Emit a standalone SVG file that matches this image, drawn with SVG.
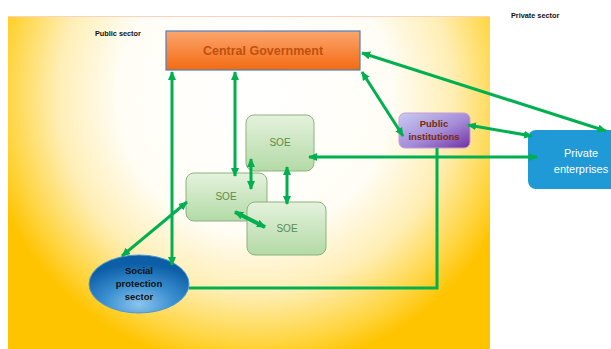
<svg xmlns="http://www.w3.org/2000/svg" width="611" height="349" viewBox="0 0 611 349">
<defs>
<radialGradient id="bg" gradientUnits="userSpaceOnUse" cx="255" cy="95" r="275">
<stop offset="0" stop-color="#ffffff"/>
<stop offset="0.5" stop-color="#fffdf5"/>
<stop offset="0.72" stop-color="#ffeeb4"/>
<stop offset="0.88" stop-color="#ffd84e"/>
<stop offset="1" stop-color="#ffc400"/>
</radialGradient>
<linearGradient id="cg" x1="0" y1="0" x2="0" y2="1">
<stop offset="0" stop-color="#fba66e"/>
<stop offset="1" stop-color="#f36b12"/>
</linearGradient>
<linearGradient id="soe" x1="0" y1="0" x2="0" y2="1">
<stop offset="0" stop-color="#e4f2dc"/>
<stop offset="1" stop-color="#b3daa6"/>
</linearGradient>
<linearGradient id="pi" x1="0" y1="0" x2="1" y2="1">
<stop offset="0" stop-color="#c8cdf2"/>
<stop offset="0.55" stop-color="#a58bd8"/>
<stop offset="1" stop-color="#7030a0"/>
</linearGradient>
<radialGradient id="sp" cx="0.5" cy="0.85" r="0.7">
<stop offset="0" stop-color="#8cc4ee"/>
<stop offset="0.5" stop-color="#3a8fd0"/>
<stop offset="1" stop-color="#0c5ea6"/>
</radialGradient>
<marker id="ah" viewBox="0 0 10 10" refX="9" refY="5" markerUnits="userSpaceOnUse" markerWidth="9" markerHeight="9" orient="auto-start-reverse">
<path d="M0,0.5 L10,5 L0,9.5 z" fill="#00b050"/>
</marker>
<style>
.con{fill:none;stroke:#00b050;stroke-width:3}
.arr{marker-start:url(#ah);marker-end:url(#ah)}
.soe rect{fill:url(#soe);stroke:#8db17e;stroke-width:1}
.soe text{font-family:"Liberation Sans",Arial,sans-serif;font-size:10px;fill:#5b8c4b;text-anchor:middle}
.lbl{font-family:"Liberation Sans",Arial,sans-serif;font-weight:bold;text-anchor:middle}
</style>
</defs>
<rect x="0" y="0" width="611" height="349" fill="#ffffff"/>
<rect x="8" y="16" width="482" height="333" fill="url(#bg)"/>
<line x1="8" y1="16.5" x2="490" y2="16.5" stroke="#f9d2c0" stroke-width="1"/>
<text x="95" y="35.5" font-family="Liberation Sans, Arial, sans-serif" font-weight="bold" font-size="7.3" fill="#111">Public sector</text>
<text x="511" y="17.5" font-family="Liberation Sans, Arial, sans-serif" font-weight="bold" font-size="7.3" fill="#111">Private sector</text>

<g id="central-government">
<rect x="166" y="31" width="194" height="39" fill="url(#cg)" stroke="#4f81bd" stroke-width="1.2"/>
<text class="lbl" x="263" y="55" font-size="12.5" fill="#c0500e">Central Government</text>
</g>

<g id="soe-top" class="soe">
<rect x="246" y="115" width="68" height="56" rx="8"/>
<text x="280" y="146">SOE</text>
</g>
<g id="soe-left" class="soe">
<rect x="186" y="173" width="81" height="48" rx="8"/>
<text x="226" y="200">SOE</text>
</g>
<g id="soe-right" class="soe">
<rect x="247" y="202" width="79" height="53" rx="8"/>
<text x="287" y="232">SOE</text>
</g>

<g id="public-institutions">
<rect x="399" y="113" width="71" height="35" rx="6" fill="url(#pi)" stroke="#c79ad6" stroke-width="1"/>
<text class="lbl" x="434" y="127" font-size="9.5" fill="#7a2a08">Public</text>
<text class="lbl" x="434" y="140" font-size="9.5" fill="#7a2a08">institutions</text>
</g>

<g id="private-enterprises">
<rect x="528" y="130" width="100" height="59" rx="8" fill="#1f9ad6"/>
<text x="581" y="157" font-family="Liberation Sans, Arial, sans-serif" font-size="11" fill="#ffffff" text-anchor="middle">Private</text>
<text x="581" y="173" font-family="Liberation Sans, Arial, sans-serif" font-size="11" fill="#ffffff" text-anchor="middle">enterprises</text>
</g>

<g id="social-protection-sector">
<ellipse cx="139" cy="284" rx="50" ry="29" fill="url(#sp)" stroke="#4a9ad8" stroke-width="1"/>
<text class="lbl" x="139" y="274" font-size="9.5" fill="#111">Social</text>
<text class="lbl" x="139" y="287" font-size="9.5" fill="#111">protection</text>
<text class="lbl" x="139" y="300" font-size="9.5" fill="#111">sector</text>
</g>

<g id="connectors">
<line class="con arr" x1="172" y1="72" x2="172" y2="265"/>
<line class="con arr" x1="235" y1="72" x2="235" y2="176"/>
<line class="con arr" x1="362" y1="72" x2="403" y2="136"/>
<line class="con arr" x1="362" y1="53" x2="606" y2="131"/>
<line class="con arr" x1="468" y1="125" x2="532" y2="136"/>
<line class="con arr" x1="309" y1="157" x2="537" y2="157"/>
<line class="con arr" x1="251" y1="159" x2="251" y2="189"/>
<line class="con arr" x1="287" y1="167" x2="287" y2="204"/>
<line class="con arr" x1="235" y1="212" x2="265" y2="227" style="stroke-width:4"/>
<line class="con arr" x1="187" y1="202" x2="122" y2="256"/>
<polyline class="con" points="189,288 437,288 437,148"/>
</g>
</svg>
